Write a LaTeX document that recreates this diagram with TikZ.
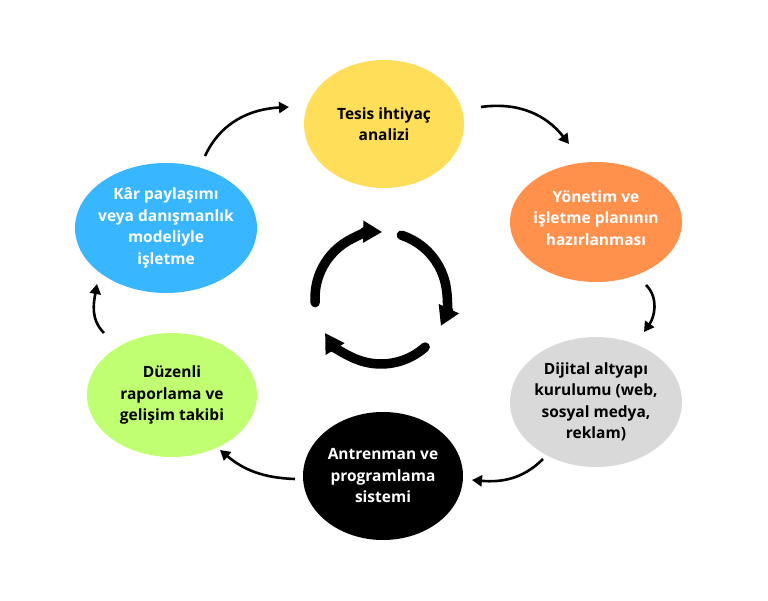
\documentclass[tikz,border=0pt]{standalone}
\usepackage{fontspec}
\setmainfont{Open Sans}
\usetikzlibrary{arrows.meta, shapes.geometric}
\definecolor{tesisyellow}{HTML}{FFDE59}
\definecolor{planorange}{HTML}{FF914D}
\definecolor{dijitalgray}{HTML}{D9D9D9}
\definecolor{takipgreen}{HTML}{C1FF72}
\definecolor{karblue}{HTML}{38B6FF}

\begin{document}
\begin{tikzpicture}[
  x=1pt, y=1pt,
  bubble/.style={ellipse, inner sep=0pt},
  lbl/.style={align=center, font=\bfseries\fontsize{15.5}{21.5}\selectfont},
  arr/.style={-{Triangle[length=10pt, width=11pt]}, line width=2.6pt},
  cyc/.style={-{Triangle[length=19pt, width=21pt]}, line width=9.5pt, line cap=round}
]
  \useasboundingbox (0,0) rectangle (768,600);

  % the six steps
  \node[bubble, fill=tesisyellow, minimum width=160pt, minimum height=128pt] (tesis) at (384,476) {};
  \node[bubble, fill=planorange, minimum width=172pt, minimum height=120pt] (plan) at (596,378) {};
  \node[bubble, fill=dijitalgray, minimum width=172pt, minimum height=130pt] (dijital) at (596,198) {};
  \node[bubble, fill=black, minimum width=160pt, minimum height=128pt] (antrenman) at (383,124) {};
  \node[bubble, fill=takipgreen, minimum width=170pt, minimum height=124pt] (takip) at (172,205) {};
  \node[bubble, fill=karblue, minimum width=182pt, minimum height=130pt] (kar) at (166,372) {};

  \node[lbl] (tesis-t) at (tesis) {Tesis ihtiyaç\\analizi};
  \node[lbl, text=white] (plan-t) at ([yshift=4pt]plan) {Yönetim ve\\işletme planının\\hazırlanması};
  \node[lbl] (dijital-t) at (dijital) {Dijital altyapı\\kurulumu (web,\\sosyal medya,\\reklam)};
  \node[lbl, text=white] (antrenman-t) at (antrenman) {Antrenman ve\\programlama\\sistemi};
  \node[lbl] (takip-t) at (takip) {Düzenli\\raporlama ve\\gelişim takibi};
  \node[lbl, text=white] (kar-t) at (kar) {Kâr paylaşımı\\veya danışmanlık\\modeliyle\\işletme};

  % arrow ends
  \coordinate (k2t-s) at (205,444);
  \coordinate (k2t-e) at (289,493);
  \coordinate (t2p-s) at (481,493);
  \coordinate (t2p-e) at (569,456);
  \coordinate (p2d-s) at (646,315);
  \coordinate (p2d-e) at (644,268);
  \coordinate (d2a-s) at (543,141);
  \coordinate (d2a-e) at (472,120);
  \coordinate (a2t-s) at (295,121);
  \coordinate (a2t-e) at (220,150);
  \coordinate (t2k-s) at (104,267);
  \coordinate (t2k-e) at (97,316);

  \draw[arr] (k2t-s) to[out=65, in=183] (k2t-e);
  \draw[arr] (t2p-s) to[out=8, in=128] (t2p-e);
  \draw[arr] (p2d-s) to[out=-45, in=55] (p2d-e);
  \draw[arr] (d2a-s) to[out=-135, in=-5] (d2a-e);
  \draw[arr] (a2t-s) to[out=178, in=-40] (a2t-e);
  \draw[arr] (t2k-s) to[out=135, in=-100] (t2k-e);

  % cycle in the middle
  \coordinate (cycle) at (381,302);
  \draw[cyc] (cycle) ++(184:66) arc[start angle=184, end angle=89, radius=66];
  \draw[cyc] (cycle) ++(72:66) arc[start angle=72, end angle=-25, radius=66];
  \draw[cyc] (cycle) ++(-48:66) arc[start angle=-48, end angle=-148, radius=66];
\end{tikzpicture}
\end{document}
